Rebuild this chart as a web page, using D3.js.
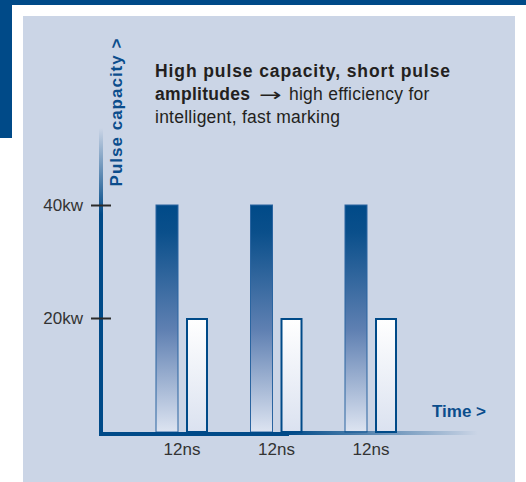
<!DOCTYPE html>
<html>
<head>
<meta charset="utf-8">
<script src="https://cdn.jsdelivr.net/npm/d3@7"></script>
<style>
  body { margin: 0; background: #fff; }
  svg { display: block; font-family: "Liberation Sans", Arial, sans-serif; }
</style>
</head>
<body>
<div id="chart"></div>
<script>
// Chart values
let pulses = [0, 1, 2];
let timeLabels = ["12ns", "12ns", "12ns"];
let peakValues = [40, 40, 40];
let lowValues = [20, 20, 20];
let yTicks = [20, 40];

let width = 526,
    height = 482;
let blue = "#004a88";

let svg = d3.select("#chart")
    .append("svg")
    .attr("width", width)
    .attr("height", height);

let defs = svg.append("defs");

// Gradient for the tall pulses: dark blue fading to light at the base
let tallGrad = defs.append("linearGradient")
    .attr("id", "tallGrad")
    .attr("x1", 0).attr("y1", 0).attr("x2", 0).attr("y2", 1);
tallGrad.append("stop").attr("offset", "0%").attr("stop-color", "#004a88");
tallGrad.append("stop").attr("offset", "12%").attr("stop-color", "#0a4f8b");
tallGrad.append("stop").attr("offset", "55%").attr("stop-color", "#5f80b2");
tallGrad.append("stop").attr("offset", "100%").attr("stop-color", "#dde4f1");

let lowGrad = defs.append("linearGradient")
    .attr("id", "lowGrad")
    .attr("x1", 0).attr("y1", 0).attr("x2", 0).attr("y2", 1);
lowGrad.append("stop").attr("offset", "0%").attr("stop-color", "#ffffff");
lowGrad.append("stop").attr("offset", "100%").attr("stop-color", "#dbe2f0");

let yAxisGrad = defs.append("linearGradient")
    .attr("id", "yAxisGrad")
    .attr("x1", 0).attr("y1", 0).attr("x2", 0).attr("y2", 1);
yAxisGrad.append("stop").attr("offset", "0%").attr("stop-color", blue).attr("stop-opacity", 0);
yAxisGrad.append("stop").attr("offset", "28%").attr("stop-color", blue).attr("stop-opacity", 1);
yAxisGrad.append("stop").attr("offset", "100%").attr("stop-color", blue).attr("stop-opacity", 1);

let xAxisGrad = defs.append("linearGradient")
    .attr("id", "xAxisGrad")
    .attr("x1", 0).attr("y1", 0).attr("x2", 1).attr("y2", 0);
xAxisGrad.append("stop").attr("offset", "0%").attr("stop-color", blue).attr("stop-opacity", 1);
xAxisGrad.append("stop").attr("offset", "100%").attr("stop-color", blue).attr("stop-opacity", 0);

// Page frame: dark band at the top and on the left, light panel
svg.append("rect").attr("x", 0).attr("y", 0).attr("width", width).attr("height", 5).attr("fill", blue);
svg.append("rect").attr("x", 0).attr("y", 0).attr("width", 12).attr("height", 138).attr("fill", blue);
svg.append("rect").attr("x", 23).attr("y", 16).attr("width", 492).attr("height", height - 16).attr("fill", "#cbd5e6");

// Scales
let y = d3.scaleLinear().domain([0, 40]).range([431, 205]);
let x = d3.scaleBand().domain(pulses).range([134.75, 418.25]);
let sub = d3.scaleBand().domain(["peak", "low"]).range([0, 52]).paddingInner(8 / 30);
let offset = x.bandwidth() / 2 - 26;

// Tall pulses
svg.append("g")
    .selectAll("rect")
    .data(pulses)
    .enter()
    .append("rect")
        .attr("x", d => x(d) + offset + sub("peak"))
        .attr("y", d => y(peakValues[d]))
        .attr("width", sub.bandwidth())
        .attr("height", d => y(0) - y(peakValues[d]) + 1)
        .attr("fill", "url(#tallGrad)")
        .attr("stroke", "#2a64a0")
        .attr("stroke-width", 1);

// Short pulses
svg.append("g")
    .selectAll("rect")
    .data(pulses)
    .enter()
    .append("rect")
        .attr("x", d => x(d) + offset + sub("low") + 1)
        .attr("y", d => y(lowValues[d]) + 1)
        .attr("width", sub.bandwidth() - 2)
        .attr("height", d => y(0) - y(lowValues[d]))
        .attr("fill", "url(#lowGrad)")
        .attr("stroke", blue)
        .attr("stroke-width", 2);

// Axis lines
svg.append("rect").attr("x", 99).attr("y", 128).attr("width", 4).attr("height", 308).attr("fill", "url(#yAxisGrad)");
svg.append("rect").attr("x", 99).attr("y", 432).attr("width", 190).attr("height", 4).attr("fill", blue);
svg.append("rect").attr("x", 288).attr("y", 431).attr("width", 190).attr("height", 4).attr("fill", "url(#xAxisGrad)");

// Y ticks
let yAxis = svg.append("g")
    .attr("transform", "translate(101,0)")
    .call(d3.axisLeft(y).tickValues(yTicks).tickFormat(d => d + "kw").tickSize(10).tickPadding(8));
yAxis.select(".domain").remove();
yAxis.selectAll(".tick line")
    .attr("x1", -10).attr("x2", 10)
    .attr("stroke", "#2b2b2b")
    .attr("stroke-width", 2);
yAxis.selectAll(".tick text")
    .attr("fill", "#333")
    .style("font-size", "17px")
    .style("font-family", "Liberation Sans, Arial, sans-serif");

// X labels
let xAxis = svg.append("g")
    .attr("transform", "translate(0,434)")
    .call(d3.axisBottom(x).tickSize(0).tickPadding(9).tickFormat(d => timeLabels[d]));
xAxis.select(".domain").remove();
xAxis.selectAll(".tick text")
    .attr("fill", "#333")
    .style("font-size", "17px")
    .style("font-family", "Liberation Sans, Arial, sans-serif");

// Axis titles
svg.append("text")
    .attr("x", 486).attr("y", 417)
    .attr("text-anchor", "end")
    .attr("fill", "#0b4d8c")
    .style("font-size", "17px")
    .style("font-weight", "bold")
    .text("Time >");

svg.append("text")
    .attr("transform", "translate(122,112) rotate(-90)")
    .attr("text-anchor", "middle")
    .attr("fill", "#0b4d8c")
    .style("font-size", "17px")
    .style("font-weight", "bold")
    .style("letter-spacing", "1px")
    .text("Pulse capacity >");

// Caption
let caption = svg.append("g")
    .attr("fill", "#231f20")
    .style("font-size", "17.5px");
caption.append("text").attr("x", 155).attr("y", 77)
    .style("font-weight", "bold").style("letter-spacing", "0.9px")
    .text("High pulse capacity, short pulse");
caption.append("text").attr("x", 155).attr("y", 100)
    .style("font-weight", "bold").style("letter-spacing", "0.3px")
    .text("amplitudes");
// arrow glyph, widened horizontally to match the long thin arrow
caption.append("text")
    .attr("transform", "translate(259,101) scale(1.5,1)")
    .style("font-family", "DejaVu Sans, sans-serif")
    .style("font-size", "18px")
    .text("\u2192");
caption.append("text").attr("x", 289).attr("y", 100)
    .style("letter-spacing", "0.25px")
    .text("high efficiency for");
caption.append("text").attr("x", 155).attr("y", 123)
    .style("letter-spacing", "0.25px")
    .text("intelligent, fast marking");
</script>
</body>
</html>
